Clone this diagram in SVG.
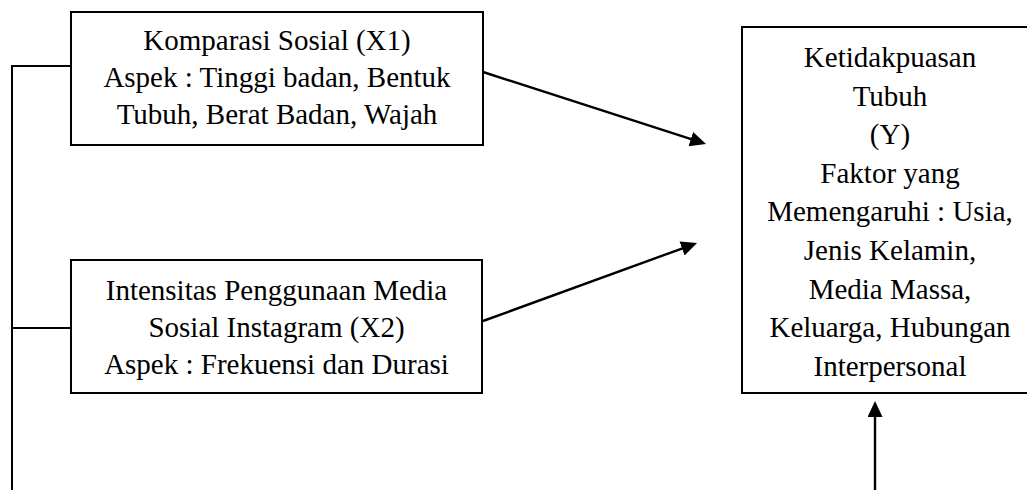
<svg xmlns="http://www.w3.org/2000/svg" width="1027" height="490" viewBox="0 0 1027 490">
<style>
.box{fill:#fff;stroke:#000;stroke-width:2}
.t{font-family:"Liberation Serif","Times New Roman",serif;font-size:29px;fill:#000;text-anchor:middle}
.ln{fill:none;stroke:#000;stroke-width:2}
.ar{fill:none;stroke:#000;stroke-width:2.4;marker-end:url(#ah)}
</style>
<defs>
<marker id="ah" markerUnits="userSpaceOnUse" markerWidth="18" markerHeight="16" refX="2" refY="7.5" orient="auto">
<path d="M0,0 L16,7.5 L0,15 z" fill="#000"/>
</marker>
</defs>
<rect width="1027" height="490" fill="#fff"/>
<g id="connectors">
<polyline class="ln" points="71,66 12,66 12,490"/>
<line class="ln" x1="12" y1="328" x2="71" y2="328"/>
<line class="ar" x1="483" y1="72" x2="692.7" y2="139.7"/>
<line class="ar" x1="483" y1="321" x2="683.9" y2="247.8"/>
<line class="ar" x1="875" y1="490" x2="875" y2="415"/>
</g>
<g id="x1">
<rect class="box" x="71" y="12" width="412" height="133"/>
<text class="t" x="277" y="50">Komparasi Sosial (X1)</text>
<text class="t" x="277" y="87">Aspek : Tinggi badan, Bentuk</text>
<text class="t" x="277" y="124">Tubuh, Berat Badan, Wajah</text>
</g>
<g id="x2">
<rect class="box" x="71" y="260" width="411" height="133"/>
<text class="t" x="276.5" y="300">Intensitas Penggunaan Media</text>
<text class="t" x="276.5" y="337">Sosial Instagram (X2)</text>
<text class="t" x="276.5" y="374">Aspek : Frekuensi dan Durasi</text>
</g>
<g id="y">
<rect class="box" x="742" y="27" width="300" height="366"/>
<text class="t" x="890" y="67">Ketidakpuasan</text>
<text class="t" x="890" y="105.6">Tubuh</text>
<text class="t" x="890" y="144.2">(Y)</text>
<text class="t" x="890" y="182.8">Faktor yang</text>
<text class="t" x="890" y="221.4">Memengaruhi : Usia,</text>
<text class="t" x="890" y="260">Jenis Kelamin,</text>
<text class="t" x="890" y="298.6">Media Massa,</text>
<text class="t" x="890" y="337.2">Keluarga, Hubungan</text>
<text class="t" x="890" y="375.8">Interpersonal</text>
</g>
</svg>
